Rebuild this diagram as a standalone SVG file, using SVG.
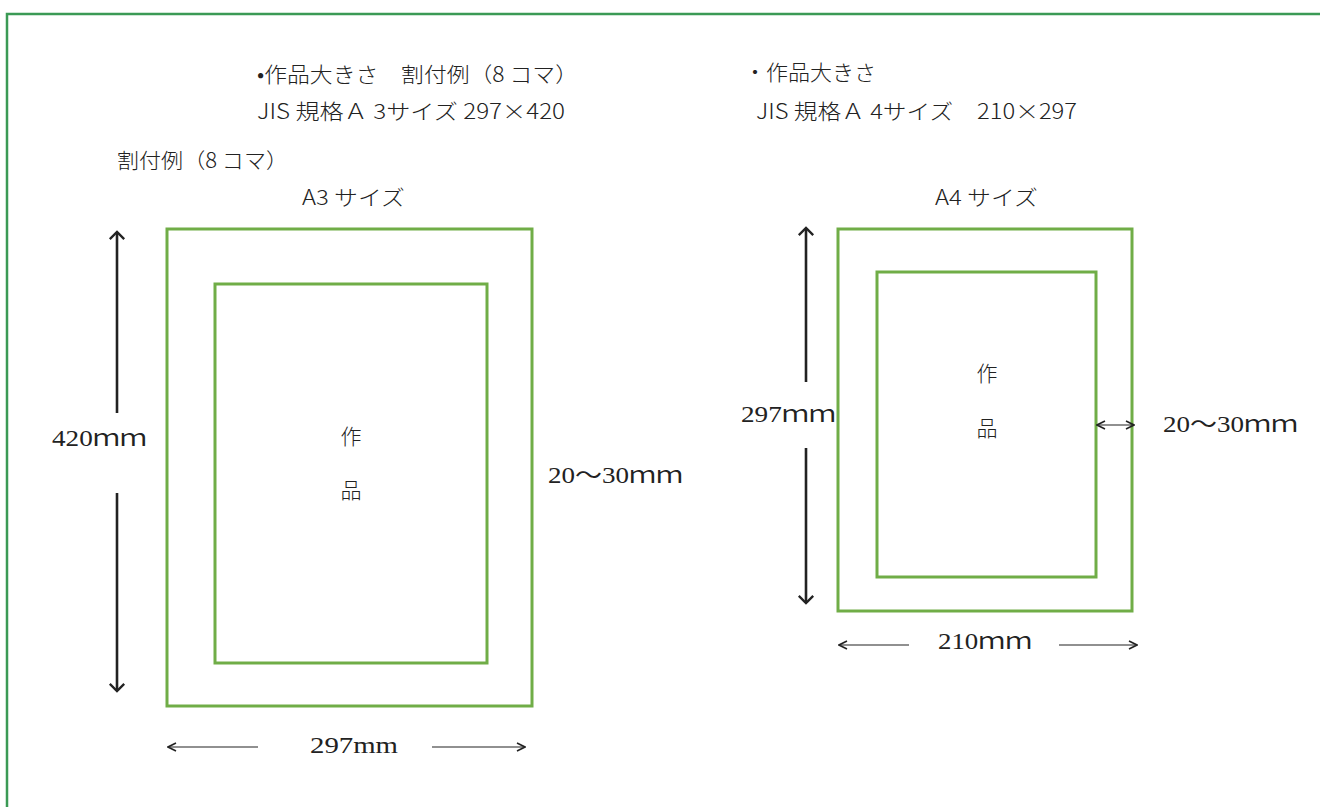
<svg xmlns="http://www.w3.org/2000/svg" width="1320" height="807" viewBox="0 0 1320 807">
<style>
.t{font-family:"Liberation Serif","Noto Sans CJK JP",serif;font-size:23px;fill:#222}
.j{font-family:"Noto Sans CJK JP","Liberation Serif",sans-serif;font-size:21px;fill:#222;font-weight:300}
.frame{fill:none;stroke:#70ad47;stroke-width:3}
.thick{stroke:#222;stroke-width:2.6;fill:none}
.thin{stroke:#222;stroke-width:1.2;fill:none}
</style>
<defs>
<marker id="ah" viewBox="0 0 10 10" refX="9" refY="5" markerWidth="10" markerHeight="10" markerUnits="userSpaceOnUse" orient="auto-start-reverse">
<path d="M1,1 L9,5 L1,9" fill="none" stroke="#222" stroke-width="1.6"/>
</marker>
<marker id="ahb" viewBox="0 0 20 20" refX="18" refY="10" markerWidth="18" markerHeight="18" markerUnits="userSpaceOnUse" orient="auto-start-reverse">
<path d="M10,2 L18,10 L10,18" fill="none" stroke="#222" stroke-width="2.6"/>
</marker>
</defs>
<rect width="1320" height="807" fill="#fff"/>
<path d="M7,807 V14 H1320" fill="none" stroke="#3b9a55" stroke-width="2.5"/>

<g id="headings">
<text class="j" x="257" y="82" textLength="321" lengthAdjust="spacingAndGlyphs">•作品大きさ　割付例（8 コマ）</text>
<text class="j" x="257" y="119" textLength="308" lengthAdjust="spacingAndGlyphs">JIS 規格Ａ 3サイズ 297×420</text>
<text class="j" x="117" y="168" textLength="171" lengthAdjust="spacingAndGlyphs">割付例（8 コマ）</text>
<text class="j" x="744" y="80" textLength="132" lengthAdjust="spacingAndGlyphs">・作品大きさ</text>
<text class="j" x="756" y="119" textLength="321" lengthAdjust="spacingAndGlyphs">JIS 規格Ａ 4サイズ　210×297</text>
</g>

<g id="a3-sheet">
<text class="j" x="302" y="205" textLength="103" lengthAdjust="spacingAndGlyphs">A3 サイズ</text>
<rect class="frame" x="167" y="229" width="365" height="477"/>
</g>
<g id="a3-work">
<rect class="frame" x="215" y="284" width="272" height="379"/>
<text class="j" x="351" y="444" text-anchor="middle">作</text>
<text class="j" x="351" y="498" text-anchor="middle">品</text>
</g>

<g id="a4-sheet">
<text class="j" x="935" y="205" textLength="103" lengthAdjust="spacingAndGlyphs">A4 サイズ</text>
<rect class="frame" x="838" y="229" width="294" height="382"/>
</g>
<g id="a4-work">
<rect class="frame" x="877" y="272" width="219" height="305"/>
<text class="j" x="987" y="381" text-anchor="middle">作</text>
<text class="j" x="987" y="436" text-anchor="middle">品</text>
</g>

<g id="connectors">
<line class="thick" x1="117" y1="413" x2="117" y2="232" marker-end="url(#ahb)"/>
<line class="thick" x1="117" y1="493" x2="117" y2="691" marker-end="url(#ahb)"/>
<line class="thick" x1="806" y1="382" x2="806" y2="228" marker-end="url(#ahb)"/>
<line class="thick" x1="806" y1="448" x2="806" y2="603" marker-end="url(#ahb)"/>
<line class="thin" x1="258" y1="747" x2="168" y2="747" marker-end="url(#ah)"/>
<line class="thin" x1="432" y1="747" x2="525" y2="747" marker-end="url(#ah)"/>
<line class="thin" x1="909" y1="645" x2="839" y2="645" marker-end="url(#ah)"/>
<line class="thin" x1="1059" y1="645" x2="1137" y2="645" marker-end="url(#ah)"/>
<line class="thin" x1="1097" y1="425" x2="1134" y2="425" marker-start="url(#ah)" marker-end="url(#ah)"/>
</g>

<g id="labels">
<text class="t" x="52" y="446" textLength="95" lengthAdjust="spacingAndGlyphs">420ｍｍ</text>
<text class="t" x="548" y="483" textLength="135" lengthAdjust="spacingAndGlyphs">20〜30ｍｍ</text>
<text class="t" x="310" y="753" textLength="88" lengthAdjust="spacingAndGlyphs">297mm</text>
<text class="t" x="741" y="422" textLength="95" lengthAdjust="spacingAndGlyphs">297ｍｍ</text>
<text class="t" x="1163" y="432" textLength="135" lengthAdjust="spacingAndGlyphs">20〜30ｍｍ</text>
<text class="t" x="938" y="649" textLength="94" lengthAdjust="spacingAndGlyphs">210ｍｍ</text>
</g>
</svg>
